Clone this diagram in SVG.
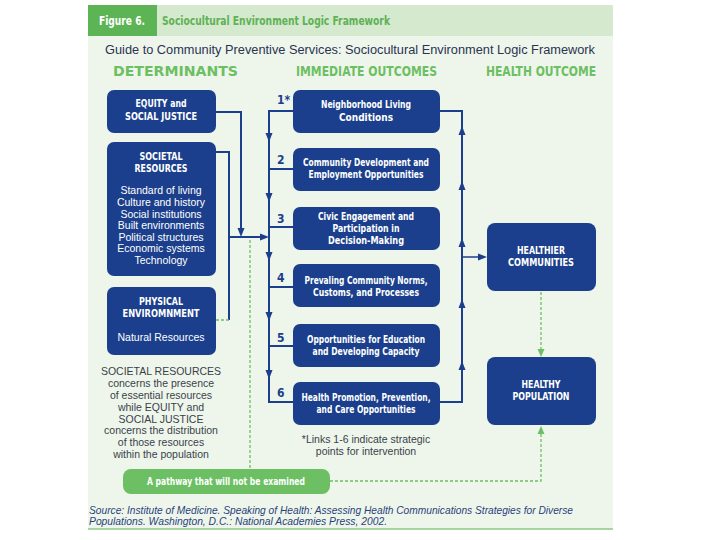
<svg xmlns="http://www.w3.org/2000/svg" width="720" height="540" viewBox="0 0 720 540">
<defs>
<style>
.bx{fill:#1b3f8c}
.wt{fill:#fff;font-family:"Liberation Sans Narrow","DejaVu Sans Condensed","Liberation Sans",sans-serif;font-weight:bold;font-size:10px;text-anchor:middle}
.wr{fill:#fff;font-family:"Liberation Sans",Arial,sans-serif;font-size:10.5px;text-anchor:middle}
.hd{fill:#6cbf62;font-family:"Liberation Sans Narrow","DejaVu Sans Condensed","Liberation Sans",sans-serif;font-weight:bold;font-size:14px}
.num{fill:#1b3f8c;font-family:"Liberation Sans Narrow","DejaVu Sans Condensed","Liberation Sans",sans-serif;font-weight:bold;font-size:12px}
.gr{fill:#3a3f4a;font-family:"Liberation Sans",Arial,sans-serif;font-size:10.5px;text-anchor:middle}
.ln{fill:none;stroke:#1b3f8c;stroke-width:2}
.gd{fill:none;stroke:#6cbf62;stroke-width:1.3;stroke-dasharray:3,2}
</style>
<path id="ah" d="M0,0 L-3.5,-9 L3.5,-9 Z" fill="#1b3f8c"/>
<path id="gh" d="M0,0 L-3.5,-8 L3.5,-8 Z" fill="#6cbf62"/>
</defs>
<rect x="0" y="0" width="720" height="540" fill="#ffffff"/>
<rect x="88" y="5" width="525" height="524" fill="#eef6ec"/>
<rect x="88" y="5" width="525" height="31" fill="#d4e9cd"/>
<rect x="88" y="5" width="69" height="31" fill="#5db454"/>
<text x="122" y="25" fill="#ffffff" font-family="Liberation Sans Narrow,DejaVu Sans Condensed,Liberation Sans,sans-serif" font-weight="bold" font-size="13" text-anchor="middle" textLength="46" lengthAdjust="spacingAndGlyphs">Figure 6.</text>
<text x="162" y="25" fill="#5fb155" font-family="Liberation Sans Narrow,DejaVu Sans Condensed,Liberation Sans,sans-serif" font-weight="bold" font-size="13" textLength="228" lengthAdjust="spacingAndGlyphs">Sociocultural Environment Logic Framework</text>
<text x="105" y="54" fill="#2a3350" font-family="Liberation Sans,Arial,sans-serif" font-size="12.5" textLength="490" lengthAdjust="spacingAndGlyphs">Guide to Community Preventive Services: Sociocultural Environment Logic Framework</text>
<text class="hd" x="113" y="76" textLength="125" lengthAdjust="spacingAndGlyphs">DETERMINANTS</text>
<text class="hd" x="296" y="76" textLength="141" lengthAdjust="spacingAndGlyphs">IMMEDIATE OUTCOMES</text>
<text class="hd" x="486" y="76" textLength="110" lengthAdjust="spacingAndGlyphs">HEALTH OUTCOME</text>

<g id="connectors">
<polyline class="ln" points="216,112 241,112 241,232"/>
<use href="#ah" transform="translate(241,237)"/>
<polyline class="ln" points="216,152 229,152 229,320"/>
<line class="ln" x1="229" y1="237" x2="264" y2="237"/>
<use href="#ah" transform="translate(269,237) rotate(-90)"/>
<polyline class="gd" points="216,320 229,320"/>
<line class="gd" x1="250" y1="240" x2="250" y2="469"/>
<polyline class="ln" points="293,111 269,111 269,402 293,402"/>
<line class="ln" x1="269" y1="169" x2="293" y2="169"/>
<line class="ln" x1="269" y1="227" x2="293" y2="227"/>
<line class="ln" x1="269" y1="287" x2="293" y2="287"/>
<line class="ln" x1="269" y1="346" x2="293" y2="346"/>
<use href="#ah" transform="translate(269,142)"/>
<use href="#ah" transform="translate(269,202)"/>
<use href="#ah" transform="translate(269,261)"/>
<use href="#ah" transform="translate(269,321)"/>
<use href="#ah" transform="translate(269,379)"/>
<polyline class="ln" points="440,111 462,111 462,402 440,402"/>
<use href="#ah" transform="translate(462,126) rotate(180)"/>
<use href="#ah" transform="translate(462,181) rotate(180)"/>
<use href="#ah" transform="translate(462,238) rotate(180)"/>
<use href="#ah" transform="translate(462,299) rotate(180)"/>
<use href="#ah" transform="translate(462,361) rotate(180)"/>
<line x1="462" y1="257" x2="481" y2="257" stroke="#1b3f8c" stroke-width="1.5"/>
<use href="#ah" transform="translate(487,257) rotate(-90)"/>
<line class="gd" x1="541" y1="292" x2="541" y2="350"/>
<use href="#gh" transform="translate(541,357)"/>
<polyline class="gd" points="330,481 541,481 541,432"/>
<use href="#gh" transform="translate(541,426) rotate(180)"/>
</g>

<g id="equity">
<rect class="bx" x="107" y="90" width="109" height="43" rx="7"/>
<text class="wt" x="161" y="107" textLength="51" lengthAdjust="spacingAndGlyphs">EQUITY and</text>
<text class="wt" x="161" y="120" textLength="72" lengthAdjust="spacingAndGlyphs">SOCIAL JUSTICE</text>
</g>
<g id="societal">
<rect class="bx" x="107" y="142" width="109" height="134" rx="7"/>
<text class="wt" x="161" y="160" textLength="43" lengthAdjust="spacingAndGlyphs">SOCIETAL</text>
<text class="wt" x="161" y="172" textLength="53" lengthAdjust="spacingAndGlyphs">RESOURCES</text>
<text class="wr" x="161" y="194">Standard of living</text>
<text class="wr" x="161" y="206">Culture and history</text>
<text class="wr" x="161" y="218">Social institutions</text>
<text class="wr" x="161" y="229">Built environments</text>
<text class="wr" x="161" y="241">Political structures</text>
<text class="wr" x="161" y="252">Economic systems</text>
<text class="wr" x="161" y="264">Technology</text>
</g>
<g id="physical">
<rect class="bx" x="107" y="287" width="109" height="68" rx="7"/>
<text class="wt" x="161" y="305" textLength="44" lengthAdjust="spacingAndGlyphs">PHYSICAL</text>
<text class="wt" x="161" y="317" textLength="77" lengthAdjust="spacingAndGlyphs">ENVIROMNMENT</text>
<text class="wr" x="161" y="341">Natural Resources</text>
</g>
<g id="note">
<text class="gr" x="161" y="375">SOCIETAL RESOURCES</text>
<text class="gr" x="161" y="387">concerns the presence</text>
<text class="gr" x="161" y="399">of essential resources</text>
<text class="gr" x="161" y="411">while EQUITY and</text>
<text class="gr" x="161" y="423">SOCIAL JUSTICE</text>
<text class="gr" x="161" y="434">concerns the distribution</text>
<text class="gr" x="161" y="446">of those resources</text>
<text class="gr" x="161" y="458">within the population</text>
</g>

<g id="o1">
<rect class="bx" x="293" y="90" width="147" height="43" rx="7"/>
<text class="num" x="277" y="104">1*</text>
<text class="wt" x="366" y="108" textLength="90" lengthAdjust="spacingAndGlyphs">Neighborhood Living</text>
<text class="wt" x="366" y="121" textLength="54" lengthAdjust="spacingAndGlyphs">Conditions</text>
</g>
<g id="o2">
<rect class="bx" x="293" y="148" width="147" height="43" rx="7"/>
<text class="num" x="277" y="164">2</text>
<text class="wt" x="366" y="166" textLength="126" lengthAdjust="spacingAndGlyphs">Community Development and</text>
<text class="wt" x="366" y="178" textLength="115" lengthAdjust="spacingAndGlyphs">Employment Opportunities</text>
</g>
<g id="o3">
<rect class="bx" x="293" y="207" width="147" height="43" rx="7"/>
<text class="num" x="277" y="223">3</text>
<text class="wt" x="366" y="220" textLength="96" lengthAdjust="spacingAndGlyphs">Civic Engagement and</text>
<text class="wt" x="366" y="232" textLength="67" lengthAdjust="spacingAndGlyphs">Participation in</text>
<text class="wt" x="366" y="244" textLength="76" lengthAdjust="spacingAndGlyphs">Decision-Making</text>
</g>
<g id="o4">
<rect class="bx" x="293" y="264" width="147" height="43" rx="7"/>
<text class="num" x="277" y="282">4</text>
<text class="wt" x="366" y="284" textLength="123" lengthAdjust="spacingAndGlyphs">Prevaling Community Norms,</text>
<text class="wt" x="366" y="296" textLength="106" lengthAdjust="spacingAndGlyphs">Customs, and Processes</text>
</g>
<g id="o5">
<rect class="bx" x="293" y="324" width="147" height="43" rx="7"/>
<text class="num" x="277" y="342">5</text>
<text class="wt" x="366" y="343" textLength="118" lengthAdjust="spacingAndGlyphs">Opportunities for Education</text>
<text class="wt" x="366" y="355" textLength="107" lengthAdjust="spacingAndGlyphs">and Developing Capacity</text>
</g>
<g id="o6">
<rect class="bx" x="293" y="382" width="147" height="43" rx="7"/>
<text class="num" x="277" y="397">6</text>
<text class="wt" x="366" y="401" textLength="129" lengthAdjust="spacingAndGlyphs">Health Promotion, Prevention,</text>
<text class="wt" x="366" y="413" textLength="99" lengthAdjust="spacingAndGlyphs">and Care Opportunities</text>
</g>
<g id="links-note">
<text class="gr" x="366" y="443" fill="#34406a">*Links 1-6 indicate strategic</text>
<text class="gr" x="366" y="455" fill="#34406a">points for intervention</text>
</g>

<g id="healthier">
<rect class="bx" x="487" y="223" width="109" height="68" rx="8"/>
<text class="wt" x="541" y="254" textLength="48" lengthAdjust="spacingAndGlyphs">HEALTHIER</text>
<text class="wt" x="541" y="266" textLength="66" lengthAdjust="spacingAndGlyphs">COMMUNITIES</text>
</g>
<g id="healthy">
<rect class="bx" x="487" y="357" width="109" height="68" rx="8"/>
<text class="wt" x="541" y="388" textLength="39" lengthAdjust="spacingAndGlyphs">HEALTHY</text>
<text class="wt" x="541" y="400" textLength="57" lengthAdjust="spacingAndGlyphs">POPULATION</text>
</g>
<g id="pathway">
<rect x="123" y="469" width="207" height="25" rx="8" fill="#6cbf62"/>
<text class="wt" x="226" y="485" textLength="158" lengthAdjust="spacingAndGlyphs">A pathway that will not be examined</text>
</g>

<text x="89" y="514" fill="#2a3f7a" font-family="Liberation Sans,Arial,sans-serif" font-style="italic" font-size="10.5" textLength="484" lengthAdjust="spacingAndGlyphs">Source: Institute of Medicine. Speaking of Health: Assessing Health Communications Strategies for Diverse</text>
<text x="89" y="525" fill="#2a3f7a" font-family="Liberation Sans,Arial,sans-serif" font-style="italic" font-size="10.5" textLength="298" lengthAdjust="spacingAndGlyphs">Populations. Washington, D.C.: National Academies Press, 2002.</text>
<line x1="88" y1="529" x2="613" y2="529" stroke="#8cc885" stroke-width="1.5"/>
</svg>
